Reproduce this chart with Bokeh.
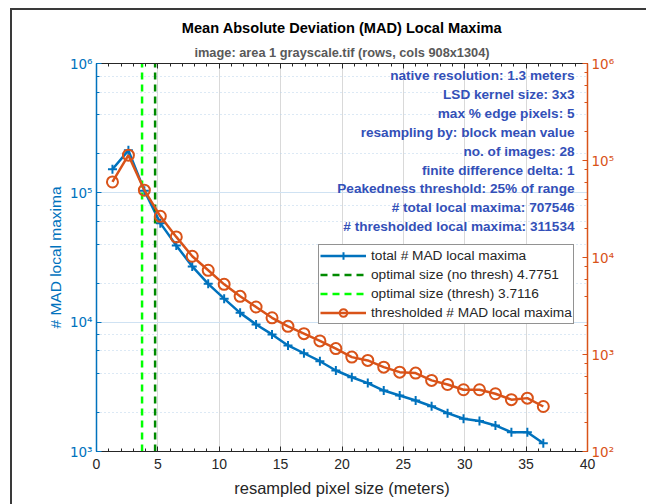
from bokeh.plotting import figure
from bokeh.models import (Range1d, LogAxis, LinearAxis, LogScale, Label, Legend, LegendItem,
                          SingleIntervalTicker, LogTicker, CustomJSTickFormatter, Title)
from bokeh.core.properties import value
from bokeh.embed import file_html
from bokeh.resources import INLINE

# ---------------- data ----------------
pixel_size = [1.3, 2.6, 3.9, 5.2, 6.5, 7.8, 9.1, 10.4, 11.7, 13.0, 14.3, 15.6, 16.9, 18.2,
              19.5, 20.8, 22.1, 23.4, 24.7, 26.0, 27.3, 28.6, 29.9, 31.2, 32.5, 33.8, 35.1, 36.4]
total_maxima = [152000, 213000, 104000, 58300, 39200, 27000, 19800, 15200, 11800, 9600,
                8040, 6610, 5750, 4990, 4230, 3750, 3380, 2960, 2710, 2480, 2240, 1980,
                1790, 1720, 1590, 1410, 1410, 1160]
thresh_maxima = [60100, 113500, 49400, 26600, 16300, 10300, 7380, 5290, 3980, 3090,
                 2390, 1950, 1640, 1380, 1150, 940, 869, 741, 658, 643, 541, 491,
                 433, 433, 394, 342, 355, 291]
opt_no_thresh = 4.7751
opt_thresh = 3.7116

x_limits = [0, 40]
left_limits = [1e3, 1e6]
right_limits = [1e2, 1e6]
y_tick_exponents = [2, 3, 4, 5, 6]
y_tick_labels = ["10\u00b2", "10\u00b3", "10\u2074", "10\u2075", "10\u2076"]

title_text = "Mean Absolute Deviation (MAD) Local Maxima"
subtitle_text = "image: area 1 grayscale.tif (rows, cols 908x1304)"
info_lines = ["native resolution: 1.3 meters",
              "LSD kernel size: 3x3",
              "max % edge pixels: 5",
              "resampling by: block mean value",
              "no. of images: 28",
              "finite difference delta: 1",
              "Peakedness threshold: 25% of range",
              "# total local maxima: 707546",
              "# thresholded local maxima: 311534"]
legend_labels = ["total # MAD local maxima",
                 "optimal size (no thresh) 4.7751",
                 "optimal size (thresh) 3.7116",
                 "thresholded # MAD local maxima"]

# ---------------- style ----------------
FONT = "Liberation Sans"
BLUE = "#0072BD"
ORANGE = "#D95319"
DARK = "#262626"
INFO = "#3350B8"

FL, FR, FT, FB = 96, 587, 63, 451   # frame edges in page pixels
W, H = 646, 504

p = figure(width=W, height=H, x_range=Range1d(*x_limits), y_range=Range1d(*left_limits),
           y_axis_type="log", output_backend="svg", toolbar_location=None, title=None,
           min_border_left=FL, min_border_right=W - FR, min_border_top=FT,
           min_border_bottom=H - FB)
p.outline_line_color = None
p.background_fill_color = "white"
p.border_fill_color = None
p.styles = {
    "background-color": "white",
    "background-image": "linear-gradient(#3a3a3a, #3a3a3a), linear-gradient(#3a3a3a, #3a3a3a)",
    "background-size": "640px 2px, 2px 500px",
    "background-position": "10px 8px, 10px 8px",
    "background-repeat": "no-repeat",
}

p.extra_y_ranges = {"right": Range1d(*right_limits)}
p.extra_y_scales = {"right": LogScale()}

fmt = CustomJSTickFormatter(args=dict(exps=y_tick_exponents, labs=y_tick_labels), code="""
const e = Math.round(Math.log10(tick));
const i = exps.indexOf(e);
return i >= 0 ? labs[i] : "";
""")
blank = CustomJSTickFormatter(code='return "";')

# x axis (bottom)
xa = p.xaxis[0]
xa.ticker = SingleIntervalTicker(interval=5, num_minor_ticks=5)
xa.axis_label = "resampled pixel size (meters)"
xa.axis_line_color = DARK
xa.major_tick_line_color = DARK
xa.minor_tick_line_color = DARK
xa.major_tick_in = 5
xa.major_tick_out = 0
xa.minor_tick_in = 3
xa.minor_tick_out = 0
xa.major_label_text_color = DARK
xa.major_label_text_font = FONT
xa.major_label_text_font_size = "14px"
xa.major_label_standoff = 7
xa.axis_label_text_font = FONT
xa.axis_label_text_font_size = "16.5px"
xa.axis_label_text_font_style = "normal"
xa.axis_label_text_color = DARK
xa.axis_label_standoff = 7

# top axis (ticks only)
ta = LinearAxis(ticker=SingleIntervalTicker(interval=5, num_minor_ticks=5), formatter=blank,
                major_label_standoff=0,
                axis_line_color=DARK, major_tick_line_color=DARK, minor_tick_line_color=DARK,
                major_tick_in=5, major_tick_out=0, minor_tick_in=3, minor_tick_out=0)
p.add_layout(ta, "above")

# titles (first added sits closest to the frame)
p.add_layout(Title(text=subtitle_text, align="center", text_font=FONT, text_font_size="12.8px",
                   text_font_style="bold", text_color="#595959", standoff=8), "above")
p.add_layout(Title(text=title_text, align="center", text_font=FONT, text_font_size="14.6px",
                   text_font_style="bold", text_color="black", standoff=5), "above")

# left axis
ya = p.yaxis[0]
ya.ticker = LogTicker()
ya.formatter = fmt
ya.axis_label = "# MAD local maxima"
# right axis
ra = LogAxis(y_range_name="right", ticker=LogTicker(), formatter=fmt)
p.add_layout(ra, "right")
for ax, col in [(ya, BLUE), (ra, ORANGE)]:
    ax.axis_line_color = col
    ax.axis_line_width = 1.5
    ax.major_tick_line_color = col
    ax.minor_tick_line_color = col
    ax.major_tick_in = 5
    ax.major_tick_out = 0
    ax.minor_tick_in = 3
    ax.minor_tick_out = 0
    ax.major_label_text_color = col
    ax.major_label_text_font = "DejaVu Sans"
    ax.major_label_text_font_size = "13.5px"
    ax.major_label_standoff = 4
    ax.axis_label_text_font = FONT
    ax.axis_label_text_font_size = "15.5px"
    ax.axis_label_text_font_style = "normal"
    ax.axis_label_text_color = col
    ax.axis_label_standoff = 3

# grids
p.xgrid.grid_line_color = "#d9d9d9"
p.xgrid.grid_line_width = 1
p.ygrid.grid_line_color = "#cfe2f3"
p.ygrid.grid_line_width = 1
p.ygrid.minor_grid_line_color = "#b9d3ea"
p.ygrid.minor_grid_line_dash = "1 3"
p.ygrid.minor_grid_line_width = 1

# ---------------- glyphs ----------------
r_tl = p.line(pixel_size, total_maxima, line_color=BLUE, line_width=2.5)
r_tp = p.scatter(pixel_size, total_maxima, marker="cross", size=9, line_color=BLUE, line_width=2)

r_no = p.line([opt_no_thresh, opt_no_thresh], left_limits, line_color="#008a00",
              line_width=2.5, line_dash="7 5")
r_th = p.line([opt_thresh, opt_thresh], left_limits, line_color="#00FF00",
              line_width=2.5, line_dash="7 5")

r_ol = p.line(pixel_size, thresh_maxima, line_color=ORANGE, line_width=2.5, y_range_name="right")
r_op = p.scatter(pixel_size, thresh_maxima, marker="circle", size=11, line_color=ORANGE,
                 line_width=2, fill_color=None, y_range_name="right")

legend = Legend(items=[LegendItem(label=legend_labels[0], renderers=[r_tl, r_tp]),
                       LegendItem(label=legend_labels[1], renderers=[r_no]),
                       LegendItem(label=legend_labels[2], renderers=[r_th]),
                       LegendItem(label=legend_labels[3], renderers=[r_ol, r_op])],
                location=(318 - FL, FB - 324), orientation="vertical",
                border_line_color=DARK, border_line_width=1, background_fill_color="white",
                background_fill_alpha=1, label_text_font=FONT, label_text_font_size="13.7px",
                label_text_color=DARK, glyph_width=46, glyph_height=19, label_height=19,
                spacing=0, padding=1, margin=0, label_standoff=5)
p.add_layout(legend)

# ---------------- info text block ----------------
def sx(px):
    return px - FL

def sy(py):
    return FB - py

for i, line in enumerate(info_lines):
    p.add_layout(Label(x=sx(574), y=sy(75 + 18.9 * i), x_units="screen", y_units="screen",
                       text=line, text_align="right", text_baseline="middle",
                       text_font=FONT, text_font_size="13.6px", text_font_style="bold",
                       text_color=INFO))

open("out.html", "w").write(file_html(p, INLINE))
